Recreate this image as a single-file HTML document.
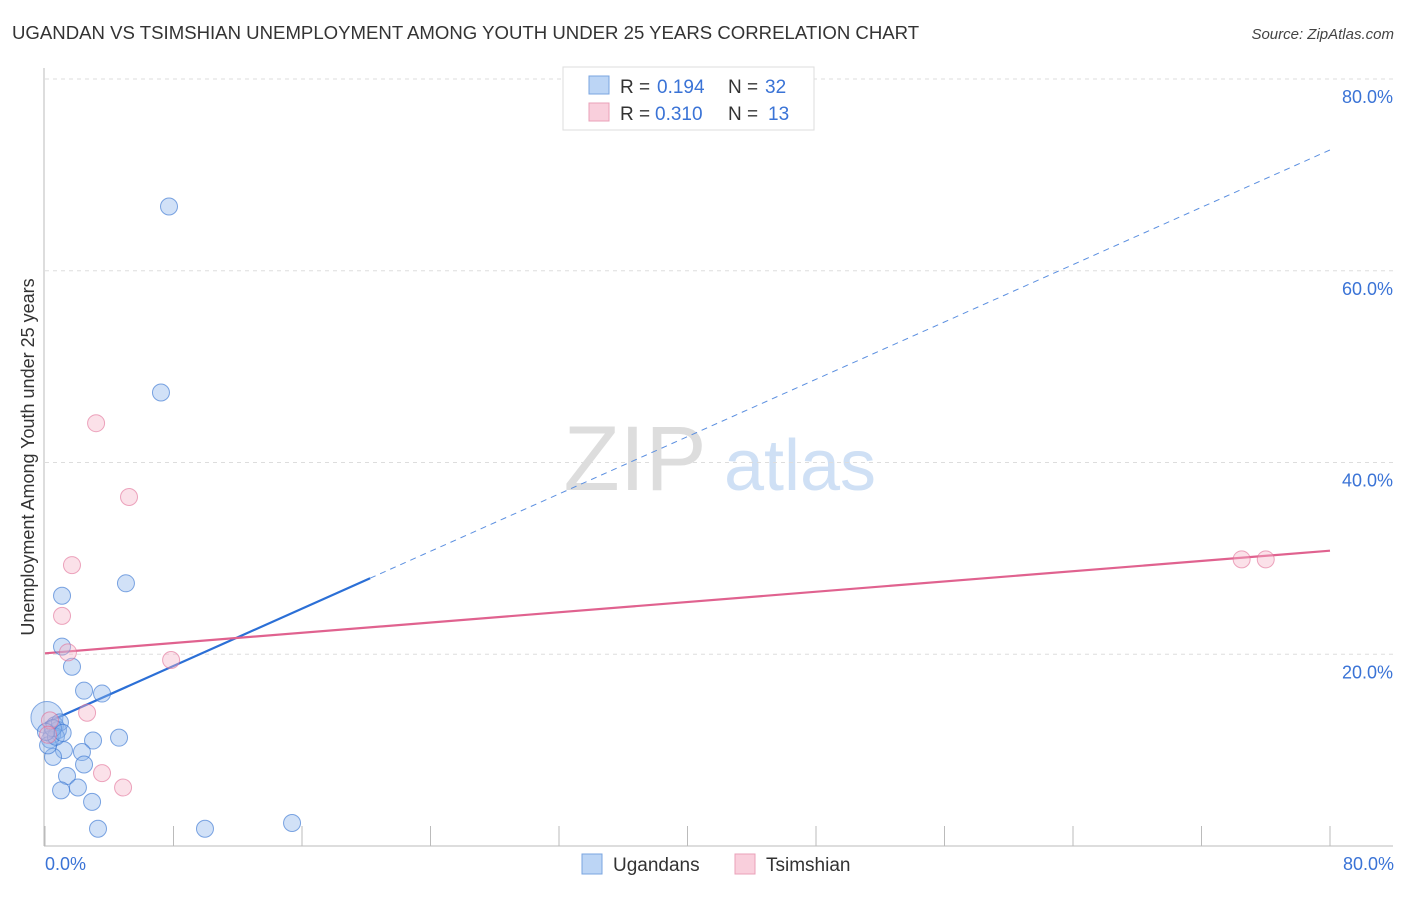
<!DOCTYPE html>
<html><head><meta charset="utf-8"><style>
body{margin:0;background:#fff;font-family:"Liberation Sans",sans-serif;}
svg text{font-family:"Liberation Sans",sans-serif;}
</style></head><body>
<svg id="chart" width="1406" height="892" viewBox="0 0 1406 892" xmlns="http://www.w3.org/2000/svg">
<text x="12" y="39" font-size="18.6" fill="#333">UGANDAN VS TSIMSHIAN UNEMPLOYMENT AMONG YOUTH UNDER 25 YEARS CORRELATION CHART</text>
<text x="1394" y="39" font-size="15" fill="#444" text-anchor="end" font-style="italic">Source: ZipAtlas.com</text>
<g>
<text x="635" y="490" font-size="92" fill="#ddd" font-family="Liberation Serif" text-anchor="middle">ZIP</text>
<text x="800" y="490" font-size="72" fill="#cfe0f5" text-anchor="middle">atlas</text>
</g>
<g id="grid"></g>
<g id="axes"></g>
<g id="lines"></g>
<g id="points"></g>
<text transform="translate(34,457) rotate(-90)" font-size="18" fill="#333" text-anchor="middle">Unemployment Among Youth under 25 years</text>
<text x="45" y="870" font-size="18" fill="#3a73d6">0.0%</text>
<text x="1394" y="870" font-size="18" fill="#3a73d6" text-anchor="end">80.0%</text>
<g>
<rect x="563" y="67" width="251" height="63" fill="#fff" stroke="#ddd"/>
<rect x="589" y="76" width="20" height="18" fill="#bcd5f5" stroke="#7aa5e0"/>
<text x="620" y="93" font-size="19" fill="#333">R =</text>
<text x="657" y="93" font-size="19" fill="#3a73d6">0.194</text>
<text x="728" y="93" font-size="19" fill="#333">N =</text>
<text x="765" y="93" font-size="19" fill="#3a73d6">32</text>
<rect x="589" y="103" width="20" height="18" fill="#f9cfdc" stroke="#eaa0b8"/>
<text x="620" y="120" font-size="19" fill="#333">R =</text>
<text x="655" y="120" font-size="19" fill="#3a73d6">0.310</text>
<text x="728" y="120" font-size="19" fill="#333">N =</text>
<text x="768" y="120" font-size="19" fill="#3a73d6">13</text>
</g>
<g>
<rect x="582" y="854" width="20" height="20" fill="#bcd5f5" stroke="#7aa5e0"/>
<text x="613" y="871" font-size="19" fill="#333">Ugandans</text>
<rect x="735" y="854" width="20" height="20" fill="#f9cfdc" stroke="#eaa0b8"/>
<text x="766" y="871" font-size="19" fill="#333">Tsimshian</text>
</g>
</svg>
<script>
const yTicks=[20,40,60,80];
const yTickLabels=["20.0%","40.0%","60.0%","80.0%"];
const ugX=[7.72,7.22,5.04,1.06,1.06,1.68,2.43,3.55,4.61,2.99,2.30,1.18,0.50,2.43,1.37,1.00,2.05,2.93,3.30,9.96,15.38,0.62,0.81,0.44,0.31,0.93,0.19,0.68,0.50,0.06,1.10];
const ugY=[66.7,47.3,27.4,26.1,20.8,18.7,16.2,15.9,11.3,11.0,9.8,10.0,9.3,8.5,7.3,5.8,6.1,4.6,1.8,1.8,2.4,12.6,12.1,11.6,11.1,12.9,10.5,11.4,12.3,11.9,11.8];
const bigX=[0.12], bigY=[13.4];
const tsX=[3.18,5.23,1.68,1.06,1.43,7.85,2.62,3.55,4.86,74.5,76.0,0.31,0.19];
const tsY=[44.1,36.4,29.3,24.0,20.2,19.4,13.9,7.6,6.1,29.9,29.9,13.1,11.6];
const ugTrend=[12.8,72.6]; const ugSolidEnd=20.24;
const tsTrend=[20.1,30.8];
const NS="http://www.w3.org/2000/svg";
const sx=v=>45+v*(1285/80);
const sy=v=>846-v*(767/80);
function mk(parent,tag,attrs){const e=document.createElementNS(NS,tag);for(const k in attrs)e.setAttribute(k,attrs[k]);document.getElementById(parent).appendChild(e);return e;}
yTicks.forEach((t,i)=>{
 const g=mk('grid','line',{x1:45,x2:1393,y1:sy(t),y2:sy(t),stroke:'#ddd','stroke-dasharray':'4,4'});
 
 
 const tx=mk('grid','text',{x:1393,y:sy(t)+24,'font-size':18,fill:'#3a73d6','text-anchor':'end'});
 tx.textContent=yTickLabels[i];
 
 
});
let a=mk('axes','line',{x1:44,x2:44,y1:68,y2:846,stroke:'#bbb'});


a=mk('axes','line',{x1:44,x2:1393,y1:846,y2:846,stroke:'#bbb'});


for(let i=0;i<=10;i++){const t=mk('axes','line',{x1:sx(i*8),x2:sx(i*8),y1:826,y2:846,stroke:'#bbb'});
 
 }
const f=(tr,x)=>tr[0]+(tr[1]-tr[0])*x/80;
let l=mk('lines','line',{x1:sx(0),y1:sy(f(ugTrend,0)),x2:sx(ugSolidEnd),y2:sy(f(ugTrend,ugSolidEnd)),stroke:'#2b6fd6','stroke-width':2.2});


l=mk('lines','line',{x1:sx(ugSolidEnd),y1:sy(f(ugTrend,ugSolidEnd)),x2:sx(80),y2:sy(f(ugTrend,80)),stroke:'#5b8fe0','stroke-width':1,'stroke-dasharray':'6,5'});


l=mk('lines','line',{x1:sx(0),y1:sy(f(tsTrend,0)),x2:sx(80),y2:sy(f(tsTrend,80)),stroke:'#e0628f','stroke-width':2.2});


bigX.forEach((x,i)=>{const c=mk('points','circle',{cx:sx(x),cy:sy(bigY[i]),r:16,fill:'rgba(140,180,235,0.4)',stroke:'rgba(60,120,210,0.6)'});
 
 });
ugX.forEach((x,i)=>{const c=mk('points','circle',{cx:sx(x),cy:sy(ugY[i]),r:8.5,fill:'rgba(140,180,235,0.4)',stroke:'rgba(60,120,210,0.65)'});
 
 });
tsX.forEach((x,i)=>{const c=mk('points','circle',{cx:sx(x),cy:sy(tsY[i]),r:8.5,fill:'rgba(245,180,200,0.4)',stroke:'rgba(225,110,150,0.6)'});
 
 });
</script>
</body></html>
